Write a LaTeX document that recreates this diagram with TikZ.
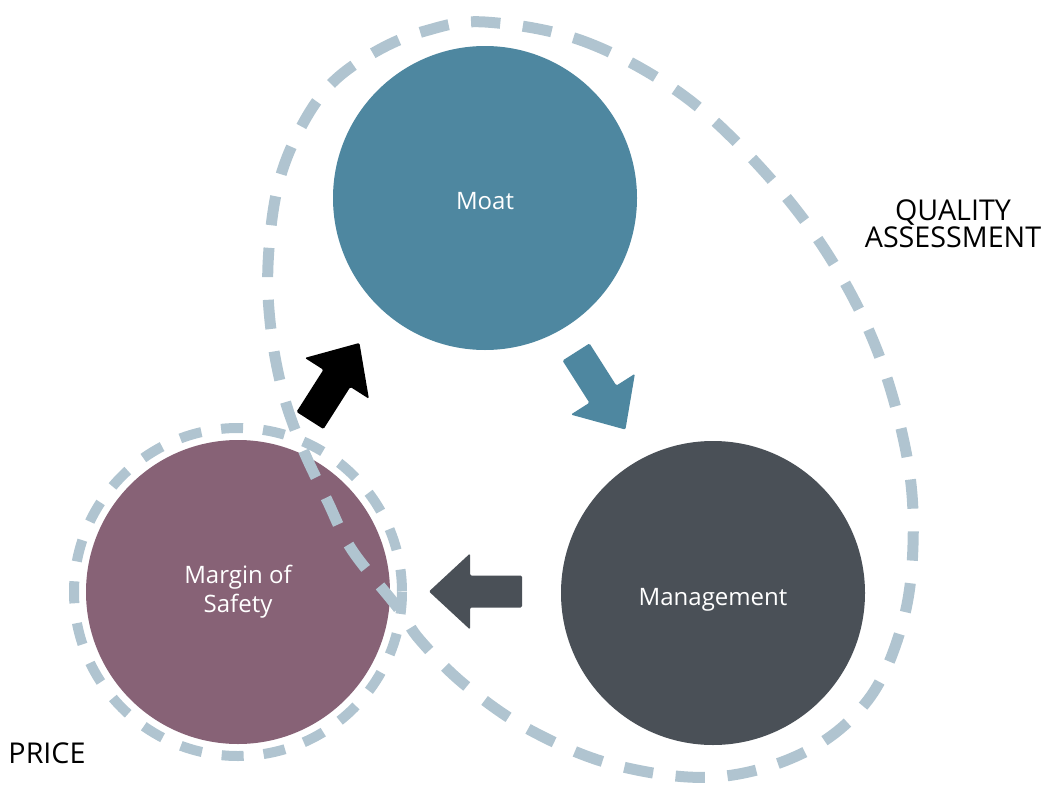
\documentclass[tikz,border=0pt]{standalone}
\usepackage{fontspec}
\setmainfont{Open Sans}
\definecolor{dashc}{HTML}{B0C4D0}
\definecolor{moatc}{HTML}{4E87A0}
\definecolor{mgmtc}{HTML}{4A5057}
\definecolor{mosc}{HTML}{876276}
\begin{document}
\begin{tikzpicture}[x=0.75pt,y=-0.75pt,
  bubble/.style={circle,inner sep=0pt,minimum size=228pt,text=white,
    font=\fontsize{18}{21.75}\selectfont,align=center},
  ring/.style={draw=dashc,line width=7.5pt,dash pattern=on 16.5pt off 15pt},
  blob/.style={draw=dashc,line width=8.25pt,dash pattern=on 22pt off 17pt},
  outer/.style={font=\fontsize{21.5}{20}\selectfont,align=center,text=black},
  blockarrow/.style={rounded corners=1pt}]
\useasboundingbox (0,0) rectangle (1046,785);
% circles
\node[bubble,fill=moatc,text height=16.5pt,text depth=0pt] (moat) at (485,198) {Moat};
\node[bubble,fill=mgmtc,text height=18pt,text depth=0pt] (mgmt) at (713,593) {Management};
\node[bubble,fill=mosc] (mos) at (238,592) {Margin of\\Safety};
% dashed outlines
\draw[ring] (mos.center) circle[radius=164];
\draw[blob] plot[smooth cycle,tension=0.6] coordinates {
 (485,22) (583,41) (680,93) (760,167) (827,253) (877,350) (907,457)
 (913,545) (902,625) (868,700) (805,752) (715,777) (615,765) (530,730)
 (465,685) (420,640) (398,608) (352,550) (327,500) (302,447) (283,393)
 (271,330) (268,265) (277,190) (298,133) (330,85) (375,52) (425,31)};
% block arrows
\coordinate (a1) at (310,420.5);
\coordinate (a2) at (576,352);
\coordinate (a3) at (522,591.5);
\begin{scope}[shift={(a1)},rotate=57.5]
 \fill[black,blockarrow] (0,-16)--(50,-16)--(50,-38)--(92,0)--(50,38)--(50,16)--(0,16)--cycle;
\end{scope}
\begin{scope}[shift={(a2)},rotate=-57.5]
 \fill[moatc,blockarrow] (0,-16)--(50,-16)--(50,-38)--(92,0)--(50,38)--(50,16)--(0,16)--cycle;
\end{scope}
\begin{scope}[shift={(a3)},rotate=180]
 \fill[mgmtc,blockarrow] (0,-16)--(52,-16)--(52,-38)--(93,0)--(52,38)--(52,16)--(0,16)--cycle;
\end{scope}
% outer labels
\node[outer] (qa) at (953,223.5) {QUALITY\\ASSESSMENT};
\node[outer] (price) at (47,753) {PRICE};
\end{tikzpicture}
\end{document}
